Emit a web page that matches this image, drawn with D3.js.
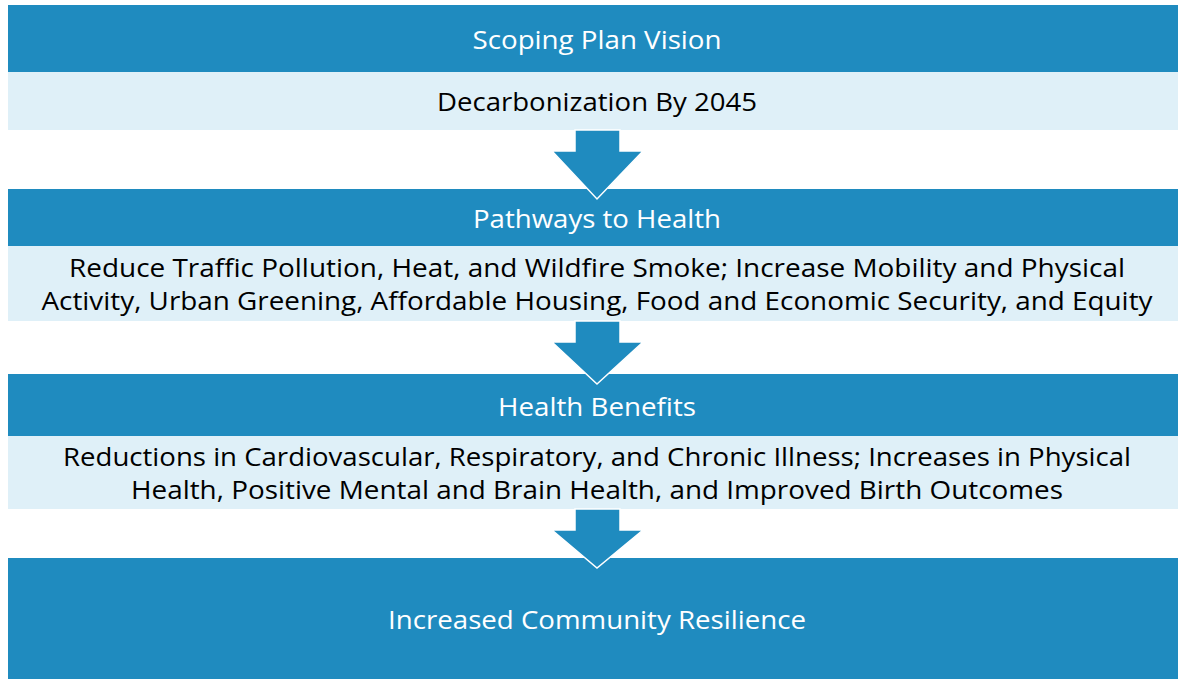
<!DOCTYPE html>
<html>
<head>
<meta charset="utf-8">
<script src="https://cdn.jsdelivr.net/npm/d3@7"></script>
<style>
  body { margin: 0; background: #fff; }
  svg { display: block; }
  text { font-family: "Open Sans", "Noto Sans", sans-serif; }
</style>
</head>
<body>
<div id="chart"></div>
<script>
var width = 1178;
var height = 679;

// content of the flow, top to bottom
var headers = ["Scoping Plan Vision", "Pathways to Health", "Health Benefits", "Increased Community Resilience"];
var details = [
  ["Decarbonization By 2045"],
  ["Reduce Traffic Pollution, Heat, and Wildfire Smoke; Increase Mobility and Physical",
   "Activity, Urban Greening, Affordable Housing, Food and Economic Security, and Equity"],
  ["Reductions in Cardiovascular, Respiratory, and Chronic Illness; Increases in Physical",
   "Health, Positive Mental and Brain Health, and Improved Birth Outcomes"],
  []
];

var dark = "#1f8bbf";
var light = "#dff0f8";

// layout of each stage (pixel bands)
var stages = [
  { top: 5,   headH: 67,  bodyH: 58 },
  { top: 189, headH: 57,  bodyH: 75 },
  { top: 374, headH: 62,  bodyH: 73 },
  { top: 558, headH: 121, bodyH: 0 }
];
// measured text widths so the Calibri-like text fits the same span
var headW = [249, 248, 198, 418];
var bodyW = [[320], [1056, 1111], [1068, 932]];

var x0 = 8, x1 = 1178;
var cx = 597;

var svg = d3.select("#chart")
  .append("svg")
  .attr("width", width)
  .attr("height", height);

var g = svg.selectAll("g.stage")
  .data(stages)
  .enter()
  .append("g")
  .attr("class", "stage");

// header band
g.append("rect")
  .attr("x", x0)
  .attr("y", function(d){ return d.top; })
  .attr("width", x1 - x0)
  .attr("height", function(d){ return d.headH; })
  .attr("fill", dark);

// detail band
g.filter(function(d){ return d.bodyH > 0; })
  .append("rect")
  .attr("x", x0)
  .attr("y", function(d){ return d.top + d.headH; })
  .attr("width", x1 - x0)
  .attr("height", function(d){ return d.bodyH; })
  .attr("fill", light);

// header text
g.append("text")
  .attr("x", cx)
  .attr("y", function(d){ return d.top + d.headH / 2 + 10.5; })
  .attr("text-anchor", "middle")
  .attr("font-size", 26)
  .attr("fill", "#fff")
  .attr("textLength", function(d, i){ return headW[i]; })
  .attr("lengthAdjust", "spacingAndGlyphs")
  .text(function(d, i){ return headers[i]; });

// detail text
g.each(function(d, i){
  var lines = details[i];
  if (!lines.length) return;
  var lh = 33;
  var mid = d.top + d.headH + d.bodyH / 2;
  var first = mid - (lines.length - 1) * lh / 2 + 10;
  d3.select(this).selectAll("text.body")
    .data(lines)
    .enter()
    .append("text")
    .attr("class", "body")
    .attr("x", cx)
    .attr("y", function(t, j){ return first + j * lh; })
    .attr("text-anchor", "middle")
    .attr("font-size", 25)
    .attr("fill", "#000")
    .attr("textLength", function(t, j){ return bodyW[i][j]; })
    .attr("lengthAdjust", "spacingAndGlyphs")
    .text(function(t){ return t; });
});

// arrows between stages
var arrows = d3.range(stages.length - 1).map(function(i){
  var s = stages[i], n = stages[i + 1];
  var start = s.top + s.headH + s.bodyH;
  return { start: start, neck: start + 21, tip: n.top + 10 };
});

svg.selectAll("path.arrow")
  .data(arrows)
  .enter()
  .append("path")
  .attr("class", "arrow")
  .attr("d", function(a){
    var p = d3.path();
    p.moveTo(cx - 22, a.start);
    p.lineTo(cx + 23, a.start);
    p.lineTo(cx + 23, a.neck);
    p.lineTo(cx + 46, a.neck);
    p.lineTo(cx, a.tip);
    p.lineTo(cx - 45, a.neck);
    p.lineTo(cx - 22, a.neck);
    p.closePath();
    return p.toString();
  })
  .attr("fill", dark)
  .attr("stroke", "#fff")
  .attr("stroke-width", 1.5)
  .attr("stroke-linejoin", "miter");
</script>
</body>
</html>
